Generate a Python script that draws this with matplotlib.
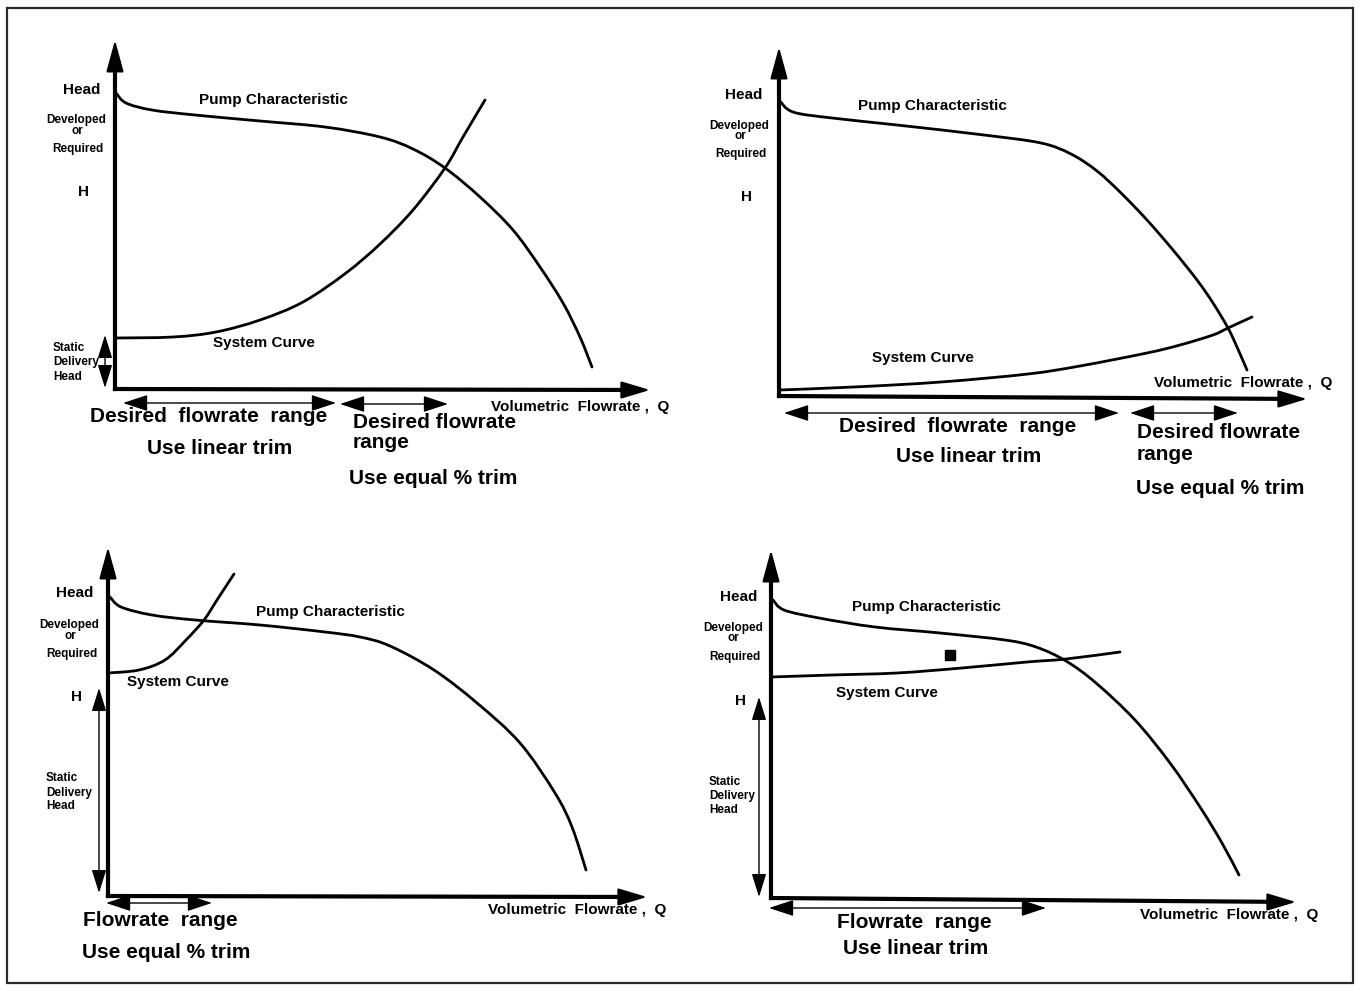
import matplotlib
matplotlib.use('Agg')
import matplotlib.pyplot as plt
import numpy as np
from matplotlib.patches import Rectangle, PathPatch
from matplotlib.path import Path

plt.rcParams['font.family'] = ['Liberation Sans', 'DejaVu Sans']

W, H = 1362, 991

# ---- panel origins (pixels in the page) ----
origins = [(115, 389), (779, 396), (108, 896), (771, 898)]

# ---- axis tips (local Q, H) ----
y_tips = [(0, 349), (0, 349), (0, 349), (0, 348)]
x_tips = [(535, -1), (528, -3), (539, -1), (525, -4)]

# ---- pump characteristic curves (Q, H) ----
pump_q = [
    [1, 11, 37, 80, 145, 210, 265, 298, 330, 365, 398, 425, 448, 465, 477],
    [0, 14, 53, 118, 205, 262, 292, 318, 342, 368, 394, 418, 434, 449, 458, 468],
    [2, 13, 44, 87, 152, 217, 252, 282, 326, 369, 412, 447, 464, 478],
    [2, 13, 48, 104, 169, 234, 265, 295, 325, 364, 399, 429, 451, 468],
]
pump_h = [
    [296, 286, 279, 274, 268, 262, 252, 240, 221, 192, 159, 122, 86, 52, 22],
    [296, 284, 278, 271, 261, 253, 242, 225, 203, 176, 146, 116, 93, 68, 49, 26],
    [299, 289, 281, 276, 271, 264, 259, 250, 226, 193, 153, 103, 69, 26],
    [298, 288, 280, 271, 265, 258, 251, 237, 215, 178, 135, 91, 55, 23],
]

# ---- system curves (Q, H) ----
sys_q = [
    [0, 58, 101, 145, 188, 231, 265, 298, 330, 348, 370],
    [0, 75, 162, 249, 301, 368, 401, 434, 449, 473],
    [0, 31, 57, 78, 96, 109, 126],
    [0, 61, 126, 191, 256, 295, 349],
]
sys_h = [
    [51, 52, 57, 69, 87, 116, 145, 179, 221, 252, 289],
    [6, 9, 14, 22, 30, 43, 51, 61, 68, 79],
    [223, 226, 236, 256, 276, 296, 322],
    [221, 223, 225, 230, 236, 239, 246],
]

# ---- static delivery head arrows (x, H bottom, H top), None = absent ----
static_arrow = [(-10, 1, 54), None, (-9, 3, 208), (-12, 1, 201)]
static_text = [(-62, [41, 27, 12]), None, (-62, [118, 103, 90]), (-62, [116, 102, 88])]

# ---- flowrate range arrows (Q start, Q end, H) ----
ranges = [
    [(8, 221, -14), (225, 333, -15)],
    [(5, 340, -17), (351, 459, -17)],
    [(-2, 104, -7)],
    [(-2, 275, -10)],
]

# ---- head label block (Head, Developed, or, Required, H) ----
head_x = [[-33, -39, -38, -37, -31], [-35, -40, -39, -38, -32],
          [-33, -39, -38, -36, -31], [-32, -38, -38, -36, -31]]
head_y = [[299, 269, 258, 240, 197], [301, 270, 260, 242, 199],
          [303, 271, 260, 242, 199], [301, 270, 260, 241, 197]]
head_words = ['Head', 'Developed', 'or', 'Required', 'H']
head_sizes = [11, 8.5, 8.5, 8.5, 11]

pump_lbl = [(158, 289), (153, 290), (222, 284), (155, 291)]
sys_lbl = [(149, 46), (144, 38), (70, 214), (116, 205)]
vol_lbl = [(376, -18), (375, 13), (380, -14), (369, -17)]

# big captions: (text, x, y, ha)
captions = [
    [('Desired  flowrate  range', 94, -28, 'center'), ('Use linear trim', 105, -59, 'center'),
     ('Desired flowrate', 238, -34, 'left'), ('range', 238, -54, 'left'),
     ('Use equal % trim', 234, -89, 'left')],
    [('Desired  flowrate  range', 179, -31, 'center'), ('Use linear trim', 190, -60, 'center'),
     ('Desired flowrate', 358, -37, 'left'), ('range', 358, -58, 'left'),
     ('Use equal % trim', 357, -92, 'left')],
    [('Flowrate  range', 52, -24, 'center'), ('Use equal % trim', 58, -57, 'center')],
    [('Flowrate  range', 143, -25, 'center'), ('Use linear trim', 145, -50, 'center')],
]

# little black square in panel 4
square_pt = (179, 243)


def smooth_path(qs, hs):
    # Catmull-Rom style cubic path through the read points
    p = np.column_stack([qs, hs]).astype(float)
    verts = [p[0]]
    codes = [Path.MOVETO]
    n = len(p)
    for k in range(n - 1):
        pm = p[k - 1] if k > 0 else p[k]
        pn = p[k + 2] if k + 2 < n else p[k + 1]
        c1 = p[k] + (p[k + 1] - pm) / 6.0
        c2 = p[k + 1] - (pn - p[k]) / 6.0
        verts += [c1, c2, p[k + 1]]
        codes += [Path.CURVE4] * 3
    return Path(verts, codes)


fig = plt.figure(figsize=(W / 100, H / 100), dpi=100)
fig.patch.set_facecolor('white')

# page frame
bg = fig.add_axes([0, 0, 1, 1])
bg.set_xlim(0, W)
bg.set_ylim(H, 0)
bg.axis('off')
bg.add_patch(Rectangle((7, 8), 1346, 975, fill=False, edgecolor='#2a2a2a', lw=1.6))

txt = dict(fontweight='bold', color='black')

for i, (ox, oy) in enumerate(origins):
    ax = fig.add_axes([0, 0, 1, 1])
    ax.set_xlim(-ox, W - ox)
    ax.set_ylim(oy - H, oy)
    ax.axis('off')
    ax.patch.set_alpha(0)

    # axes with arrow heads
    ax.plot([0, 0], [0, y_tips[i][1] - 20], color='black', lw=3.0, solid_capstyle='projecting')
    ax.plot([0, x_tips[i][0] - 20], [0, x_tips[i][1] * (x_tips[i][0] - 20) / x_tips[i][0]],
            color='black', lw=3.0, solid_capstyle='projecting')
    ax.annotate('', xy=y_tips[i], xytext=(0, y_tips[i][1] - 40),
                arrowprops=dict(arrowstyle='-|>,head_length=1.1,head_width=0.3', mutation_scale=18,
                                lw=1.5, color='black', shrinkA=0, shrinkB=0))
    ax.annotate('', xy=x_tips[i], xytext=(x_tips[i][0] - 40, x_tips[i][1]),
                arrowprops=dict(arrowstyle='-|>,head_length=1.0,head_width=0.3', mutation_scale=18,
                                lw=1.5, color='black', shrinkA=0, shrinkB=0))

    # curves
    ax.add_patch(PathPatch(smooth_path(pump_q[i], pump_h[i]), fill=False,
                           edgecolor='black', lw=2.0, capstyle='round'))
    ax.add_patch(PathPatch(smooth_path(sys_q[i], sys_h[i]), fill=False,
                           edgecolor='black', lw=2.0, capstyle='round'))

    # static delivery head
    if static_arrow[i] is not None:
        sx, sb, st = static_arrow[i]
        ax.annotate('', xy=(sx, st), xytext=(sx, sb),
                    arrowprops=dict(arrowstyle='<|-|>,head_length=0.8,head_width=0.25', mutation_scale=18,
                                    lw=1.0, color='black', shrinkA=0, shrinkB=0))
        tx, tys = static_text[i]
        for word, ty in zip(['Static', 'Delivery', 'Head'], tys):
            ax.text(tx, ty, word, ha='left', va='center', fontsize=8.5, **txt)

    # range arrows
    for q0, q1, hh in ranges[i]:
        ax.annotate('', xy=(q1, hh), xytext=(q0, hh),
                    arrowprops=dict(arrowstyle='<|-|>,head_length=0.85,head_width=0.28', mutation_scale=18,
                                    lw=1.0, color='black', shrinkA=0, shrinkB=0))

    # head labels
    for word, hx, hy, fs in zip(head_words, head_x[i], head_y[i], head_sizes):
        ax.text(hx, hy, word, ha='center', va='center', fontsize=fs, **txt)

    ax.text(*pump_lbl[i], 'Pump Characteristic', ha='center', va='center', fontsize=11, **txt)
    ax.text(*sys_lbl[i], 'System Curve', ha='center', va='center', fontsize=11, **txt)
    ax.text(*vol_lbl[i], 'Volumetric  Flowrate ,  Q', ha='left', va='center', fontsize=11, **txt)

    for s, cx, cy, ha in captions[i]:
        ax.text(cx, cy, s, ha=ha, va='center', fontsize=15, **txt)

    if i == 3:
        ax.plot(*square_pt, marker='s', markersize=7.5, color='black')

fig.savefig('out.png', dpi=100, facecolor='white')
